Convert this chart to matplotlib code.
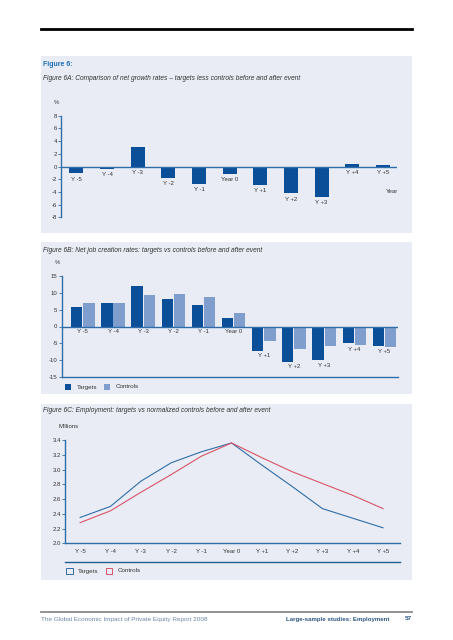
import numpy as np
import matplotlib
matplotlib.use('Agg')
import matplotlib.pyplot as plt
from matplotlib.patches import Rectangle

plt.rcParams['font.family'] = ['Liberation Sans', 'DejaVu Sans']
plt.rcParams['axes.unicode_minus'] = False

# Data
years = ['Y -5', 'Y -4', 'Y -3', 'Y -2', 'Y -1', 'Year 0', 'Y +1', 'Y +2', 'Y +3', 'Y +4', 'Y +5']
growth_diff = [-1.1, -0.4, 3.1, -1.8, -2.7, -1.25, -2.9, -4.25, -4.8, 0.4, 0.2]

jobs_targets = [5.7, 6.9, 11.9, 8.2, 6.4, 2.5, -7.1, -10.5, -10.0, -5.0, -5.7]
jobs_controls = [6.8, 6.8, 9.3, 9.7, 8.8, 3.9, -4.4, -6.5, -5.7, -5.5, -6.0]

emp_targets = [2.35, 2.50, 2.84, 3.09, 3.24, 3.36, 3.06, 2.77, 2.47, 2.34, 2.21]
emp_controls = [2.28, 2.44, 2.69, 2.93, 3.18, 3.36, 3.16, 2.97, 2.81, 2.65, 2.47]

# Colours
PANEL = '#e9ecf5'
DARK = '#0b4f98'
LIGHT = '#7f9ecd'
AXIS = '#2f6da8'
RED = '#d95368'
TXT = '#333333'

W, H = 453, 640
fig = plt.figure(figsize=(W / 100, H / 100), dpi=100)
fig.patch.set_facecolor('white')


def fx(px):
    return px / W


def fy(py):
    return 1 - py / H


def panel(y0, y1):
    fig.patches.append(Rectangle((fx(41), fy(y1)), fx(412) - fx(41), fy(y0) - fy(y1),
                                 transform=fig.transFigure, facecolor=PANEL,
                                 edgecolor='none', zorder=-5))


def make_axes(x0, x1, ytop, ybot):
    ax = fig.add_axes([fx(x0), fy(ybot), fx(x1) - fx(x0), fy(ytop) - fy(ybot)])
    ax.set_facecolor('none')
    for s in ['top', 'right']:
        ax.spines[s].set_visible(False)
    ax.spines['left'].set_color(AXIS)
    ax.spines['left'].set_linewidth(1)
    ax.spines['bottom'].set_color(AXIS)
    ax.spines['bottom'].set_linewidth(1)
    ax.tick_params(axis='y', length=2, width=0.6, color=AXIS, labelsize=4.3,
                   labelcolor=TXT, pad=1)
    ax.set_xticks([])
    return ax


# top rule
fig.add_artist(plt.Line2D([fx(41), fx(412)], [fy(29), fy(29)], color='black', lw=2))

panel(56, 233)
panel(242, 394)
panel(404, 580)

fig.text(fx(43), fy(65), 'Figure 6:', fontsize=5.0, color='#1f6fb8', weight='bold', va='center')
fig.text(fx(43), fy(79), 'Figure 6A: Comparison of net growth rates \u2013 targets less controls before and after event',
         fontsize=4.8, style='italic', color=TXT, va='center')
fig.text(fx(43), fy(250), 'Figure 6B: Net job creation rates: targets vs controls before and after event',
         fontsize=4.8, style='italic', color=TXT, va='center')
fig.text(fx(43), fy(411), 'Figure 6C: Employment: targets vs normalized controls before and after event',
         fontsize=4.8, style='italic', color=TXT, va='center')

x = np.arange(len(years))

# ---- Figure 6A
ax1 = make_axes(61, 397, 115.7, 217.3)
ax1.bar(x, growth_diff, width=0.46, color=DARK, zorder=2)
ax1.axhline(0, color=AXIS, lw=1, zorder=3)
ax1.spines['bottom'].set_visible(False)
ax1.set_xlim(-0.5, 10.46)
ax1.set_ylim(-8, 8)
ax1.set_yticks(np.arange(-8, 9, 2))
for i, v in enumerate(growth_diff):
    ax1.annotate(years[i], xy=(i, min(v, 0)), xytext=(0, -2.2), textcoords='offset points',
                 ha='center', va='top', fontsize=4.3, color=TXT)
ax1.text(10.28, -4.0, 'Year', fontsize=4.3, color=TXT, ha='center', va='center')
fig.text(fx(56), fy(102), '%', fontsize=4.3, color=TXT, ha='center', va='center')

# ---- Figure 6B
ax2 = make_axes(61.7, 398, 275.7, 377.3)
bw = 0.375
ax2.bar(x - bw / 2 - 0.015, jobs_targets, width=bw, color=DARK, zorder=2)
ax2.bar(x + bw / 2 + 0.015, jobs_controls, width=bw, color=LIGHT, zorder=2)
ax2.axhline(0, color=AXIS, lw=1, zorder=3)
ax2.set_xlim(-0.7, 10.45)
ax2.set_ylim(-15, 15)
ax2.set_yticks(np.arange(-15, 16, 5))
for i in range(len(years)):
    low = min(jobs_targets[i], jobs_controls[i], 0)
    ax2.annotate(years[i], xy=(i, low), xytext=(0, -1.6), textcoords='offset points',
                 ha='center', va='top', fontsize=4.3, color=TXT)
fig.text(fx(57), fy(262), '%', fontsize=4.3, color=TXT, ha='center', va='center')

fig.patches.append(Rectangle((fx(65), fy(390)), fx(71) - fx(65), fy(384) - fy(390),
                             transform=fig.transFigure, facecolor=DARK, edgecolor='none'))
fig.text(fx(76.5), fy(387), 'Targets', fontsize=4.5, color=TXT, va='center')
fig.patches.append(Rectangle((fx(104), fy(390)), fx(110) - fx(104), fy(384) - fy(390),
                             transform=fig.transFigure, facecolor=LIGHT, edgecolor='none'))
fig.text(fx(116), fy(387), 'Controls', fontsize=4.5, color=TXT, va='center')

# ---- Figure 6C
ax3 = make_axes(65, 400, 440, 543.3)
ax3.plot(x, emp_targets, color=AXIS, lw=0.8)
ax3.plot(x, emp_controls, color=RED, lw=0.8)
ax3.set_xlim(-0.5, 10.56)
ax3.set_ylim(2.0, 3.4)
ax3.set_yticks(np.arange(2.0, 3.41, 0.2))
ax3.set_yticklabels(['%.1f' % t for t in np.arange(2.0, 3.41, 0.2)])
ax3.set_xticks(x)
ax3.set_xticklabels(years)
ax3.tick_params(axis='x', length=0, labelsize=4.3, labelcolor=TXT, pad=4)
fig.text(fx(69), fy(427), 'Millions', fontsize=4.3, color=TXT, ha='center', va='center')

fig.add_artist(plt.Line2D([fx(65), fx(400)], [fy(562.3), fy(562.3)], color='#1f5f8f', lw=1))
fig.patches.append(Rectangle((fx(66), fy(574.3)), fx(72.7) - fx(66), fy(567.7) - fy(574.3),
                             transform=fig.transFigure, facecolor='none', edgecolor=AXIS, lw=0.7))
fig.text(fx(77.7), fy(571), 'Targets', fontsize=4.5, color=TXT, va='center')
fig.patches.append(Rectangle((fx(105.7), fy(574.3)), fx(112.3) - fx(105.7), fy(567.7) - fy(574.3),
                             transform=fig.transFigure, facecolor='none', edgecolor=RED, lw=0.7))
fig.text(fx(117.3), fy(571), 'Controls', fontsize=4.5, color=TXT, va='center')

# footer
fig.add_artist(plt.Line2D([fx(41), fx(412)], [fy(611.5), fy(611.5)], color='#8a8a8a', lw=1.3))
fig.text(fx(41), fy(619), 'The Global Economic Impact of Private Equity Report 2008',
         fontsize=4.6, color='#6d86a8', va='center')
fig.text(fx(390), fy(619), 'Large-sample studies: Employment', fontsize=4.4,
         color='#2d5684', weight='bold', va='center', ha='right')
fig.text(fx(412), fy(619), '57', fontsize=4.6, color='#2d5684', weight='bold',
         va='center', ha='right')

fig.savefig('out.png', dpi=100, facecolor='white')
